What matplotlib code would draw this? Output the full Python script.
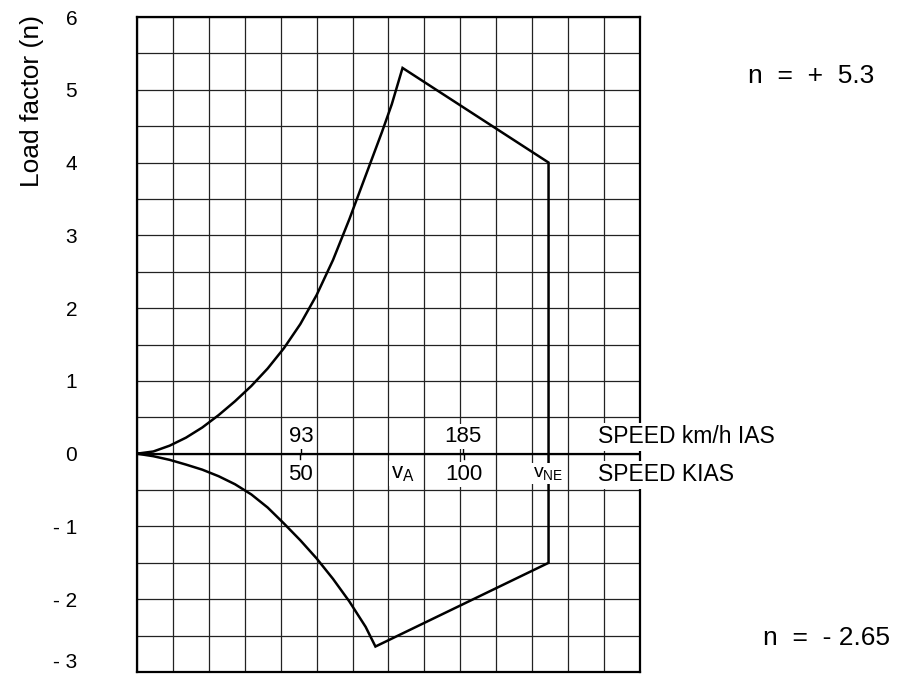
import numpy as np
import matplotlib.pyplot as plt

plt.rcParams['font.family'] = ['Liberation Sans', 'DejaVu Sans']
plt.rcParams['mathtext.fontset'] = 'custom'
plt.rcParams['mathtext.rm'] = 'Liberation Sans'

# envelope (speed in KIAS, load factor n)
pos_speed = [0, 5, 10, 15, 20, 25, 30, 35, 40, 45, 50, 55, 60, 65, 70, 75, 78, 81.3]
pos_n = [0, 0.03, 0.11, 0.22, 0.36, 0.53, 0.72, 0.93, 1.17, 1.45, 1.78, 2.18, 2.66, 3.22,
         3.82, 4.42, 4.8, 5.3]
vne_speed, vne_n_top, vne_n_bot = 126, 4.0, -1.5
neg_speed = [73, 70, 65, 60, 55, 50, 45, 40, 35, 30, 25, 20, 15, 10, 5, 0]
neg_n = [-2.65, -2.38, -2.03, -1.72, -1.44, -1.19, -0.96, -0.74, -0.56, -0.42, -0.31,
         -0.22, -0.15, -0.085, -0.035, 0]

kias_ticks = [50, 100]
kmh_ticks = [93, 185]
va_speed = 81.3
y_ticks = [-3, -2, -1, 0, 1, 2, 3, 4, 5, 6]
y_labels = ['- 3', '- 2', '- 1', '0', '1', '2', '3', '4', '5', '6']

fig = plt.figure(figsize=(9.04, 6.77), dpi=100)
ax = fig.add_axes([137/904, 1 - 672/677, (640 - 137)/904, (672 - 17)/677])
ax.set_xlim(0, 154)
ax.set_ylim(-3, 6)

# grid: 14 columns, half-unit rows
ax.set_xticks(np.arange(0, 155, 11))
ax.set_xticklabels([])
ax.set_yticks(y_ticks)
ax.set_yticklabels(y_labels, fontsize=15)
ax.set_yticks(np.arange(-3, 6.01, 0.5), minor=True)
ax.tick_params(axis='both', which='both', length=0)
ax.tick_params(axis='y', pad=43)
ax.get_yticklabels()[0].set_va('bottom')
ax.grid(True, which='both', color='#222222', lw=0.9)
ax.set_axisbelow(True)
for s in ax.spines.values():
    s.set_linewidth(1.6)

ax.axhline(0, color='black', lw=1.6)

# envelope
xs = pos_speed + [vne_speed, vne_speed] + neg_speed
ys = pos_n + [vne_n_top, vne_n_bot] + neg_n
ax.plot(xs, ys, color='black', lw=1.8, solid_joinstyle='miter')

bb = dict(facecolor='white', edgecolor='none', pad=1.5)

for k in kmh_ticks:
    x = k / 1.852
    ax.plot([x, x], [0, 0.07], color='black', lw=1)
    ax.text(x, 0.23, str(k), ha='center', va='center', fontsize=16, bbox=bb)
for k in kias_ticks:
    ax.plot([k, k], [0, -0.07], color='black', lw=1)
    ax.text(k, -0.29, str(k), ha='center', va='center', fontsize=16, bbox=bb)

ax.text(va_speed, -0.27, r'$\mathregular{v_A}$', ha='center', va='center',
        fontsize=16, bbox=bb)
ax.text(vne_speed, -0.27, r'$\mathregular{v_{NE}}$', ha='center', va='center',
        fontsize=14, bbox=bb)

ax.text(141, 0.23, 'SPEED km/h IAS', ha='left', va='center', fontsize=16.5,
        bbox=dict(facecolor='white', edgecolor='none', pad=2), clip_on=False)
ax.text(141, -0.29, 'SPEED KIAS', ha='left', va='center', fontsize=16.5,
        bbox=dict(facecolor='white', edgecolor='none', pad=2), clip_on=False)

fig.text(32/904, 1 - 101/677, 'Load factor (n)', rotation=90, ha='center',
         va='center', fontsize=19)
fig.text(748/904, 1 - 76/677, 'n  =  +  5.3', ha='left', va='center', fontsize=19)
fig.text(763/904, 1 - 638/677, 'n  =  - 2.65', ha='left', va='center', fontsize=19)

fig.savefig('out.png', dpi=100)
